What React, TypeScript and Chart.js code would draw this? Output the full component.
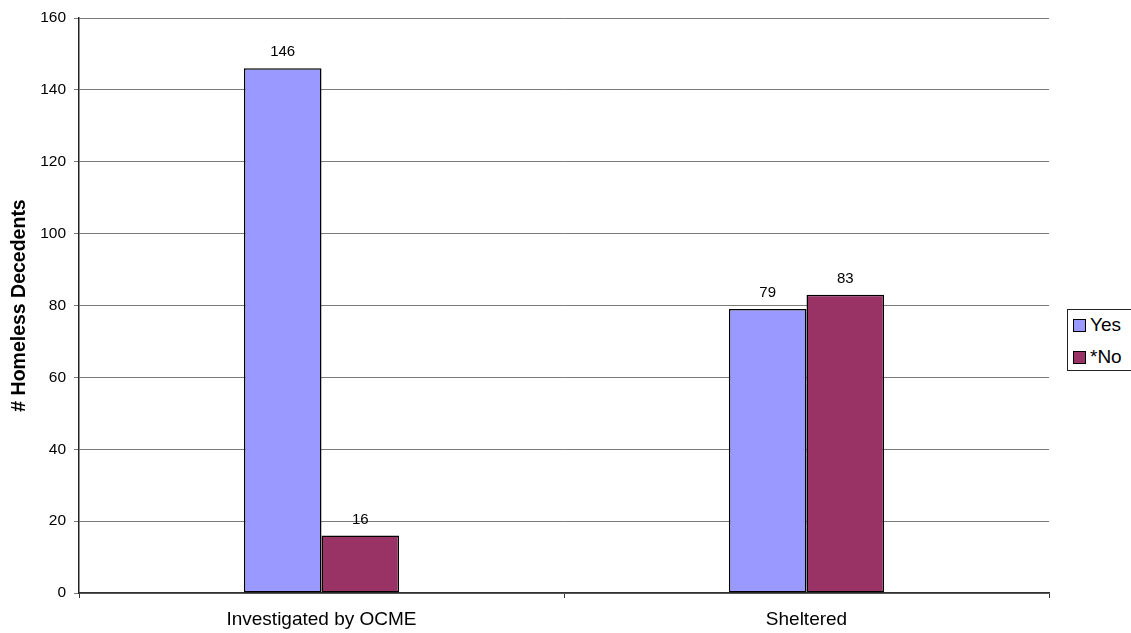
import React, { useEffect, useRef } from "react";
import { Chart, registerables } from "chart.js";

Chart.register(...registerables);

const categories = ["Investigated by OCME", "Sheltered"];
const yesValues = [146, 79];
const noValues = [16, 83];
const seriesNames = ["Yes", "*No"];
const seriesColors = ["#9999FF", "#993366"];
const yMin = 0;
const yMax = 160;
const yStep = 20;
const yTitle = "# Homeless Decedents";

const FONT = "'Liberation Sans', Arial, Helvetica, sans-serif";

const valueLabels = {
  id: "valueLabels",
  afterDatasetsDraw(chart: any) {
    const ctx = chart.ctx;
    ctx.save();
    ctx.font = `15px ${FONT}`;
    ctx.fillStyle = "#000";
    ctx.textAlign = "center";
    ctx.textBaseline = "alphabetic";
    chart.data.datasets.forEach((ds: any, i: number) => {
      const meta = chart.getDatasetMeta(i);
      meta.data.forEach((bar: any, j: number) => {
        ctx.fillText(String(ds.data[j]), bar.x, bar.y - 12);
      });
    });
    ctx.restore();
  },
};

export default function App() {
  const ref = useRef<HTMLCanvasElement | null>(null);

  useEffect(() => {
    if (!ref.current) return;
    const chart = new Chart(ref.current, {
      type: "bar",
      data: {
        labels: categories,
        datasets: [
          {
            label: seriesNames[0],
            data: yesValues,
            backgroundColor: seriesColors[0],
            borderColor: "#000",
            borderWidth: 1.5,
            borderSkipped: false,
            categoryPercentage: 0.32,
            barPercentage: 1,
          },
          {
            label: seriesNames[1],
            data: noValues,
            backgroundColor: seriesColors[1],
            borderColor: "#000",
            borderWidth: 1.5,
            borderSkipped: false,
            categoryPercentage: 0.32,
            barPercentage: 1,
          },
        ],
      },
      options: {
        animation: false,
        responsive: true,
        maintainAspectRatio: false,
        devicePixelRatio: 1,
        layout: { padding: { top: 18, right: 82, left: 0, bottom: 0 } },
        plugins: {
          legend: { display: false },
          tooltip: { enabled: false },
          title: { display: false },
        },
        scales: {
          x: {
            afterFit: (s: any) => {
              s.height = 40;
            },
            grid: {
              display: true,
              offset: true,
              drawOnChartArea: false,
              drawTicks: true,
              tickLength: 5,
              color: "#333",
            },
            border: { display: true, color: "#333", width: 1.5 },
            ticks: {
              color: "#000",
              font: { family: FONT, size: 19 },
              padding: 10,
            },
          },
          y: {
            min: yMin,
            max: yMax,
            afterFit: (s: any) => {
              s.width = 79;
            },
            ticks: {
              stepSize: yStep,
              color: "#000",
              font: { family: FONT, size: 15.5 },
              padding: 8,
            },
            grid: {
              color: "#7a7a7a",
              lineWidth: 1,
              drawTicks: true,
              tickLength: 5,
            },
            border: { display: true, color: "#222", width: 1.5 },
            title: {
              display: true,
              text: yTitle,
              color: "#000",
              font: { family: FONT, size: 19.5, weight: "bold" },
              padding: { top: 8, bottom: 4 },
            },
          },
        },
      },
      plugins: [valueLabels],
    });
    return () => chart.destroy();
  }, []);

  return (
    <div
      style={{
        position: "fixed",
        left: 0,
        top: 0,
        width: 1131,
        height: 633,
        overflow: "hidden",
        background: "#fff",
      }}
    >
      <div style={{ position: "absolute", left: 0, top: 0, width: 1131, height: 633 }}>
        <canvas ref={ref} />
      </div>
      <div
        style={{
          position: "absolute",
          left: 1067,
          top: 309,
          width: 100,
          height: 62,
          border: "1px solid #222",
          background: "#fff",
          fontFamily: FONT,
          fontSize: 19,
          color: "#000",
          boxSizing: "border-box",
        }}
      >
        {seriesNames.map((name, i) => (
          <div
            key={name}
            style={{
              position: "absolute",
              left: 5,
              top: 4 + i * 32,
              display: "flex",
              alignItems: "center",
              height: 22,
              whiteSpace: "nowrap",
            }}
          >
            <span
              style={{
                display: "inline-block",
                width: 11,
                height: 11,
                border: "1px solid #000",
                background: seriesColors[i],
                marginRight: 4,
              }}
            />
            <span style={{ lineHeight: "22px" }}>{name}</span>
          </div>
        ))}
      </div>
    </div>
  );
}
